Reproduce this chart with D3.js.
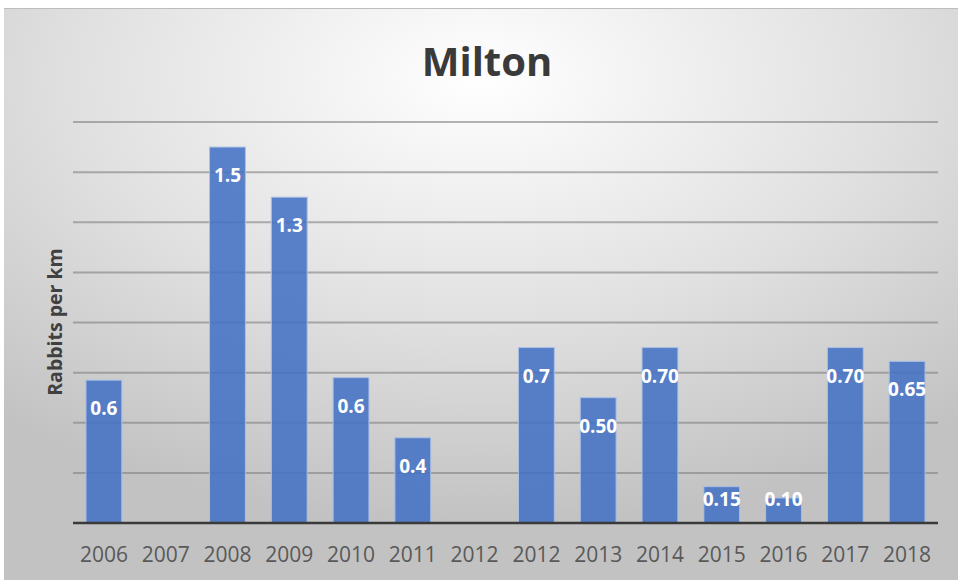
<!DOCTYPE html>
<html>
<head>
<meta charset="utf-8">
<script src="https://cdn.jsdelivr.net/npm/d3@7"></script>
<style>
  body { margin: 0; background: #fff; }
  svg { display: block; }
</style>
</head>
<body>
<div id="chart"></div>
<script>
// data
var years = ["2006", "2007", "2008", "2009", "2010", "2011", "2012", "2012", "2013", "2014", "2015", "2016", "2017", "2018"];
var rabbits = [0.57, null, 1.5, 1.3, 0.58, 0.34, null, 0.7, 0.5, 0.7, 0.145, 0.1, 0.7, 0.645];
var labels = ["0.6", "", "1.5", "1.3", "0.6", "0.4", "", "0.7", "0.50", "0.70", "0.15", "0.10", "0.70", "0.65"];
var gridTicks = [0.2, 0.4, 0.6, 0.8, 1.0, 1.2, 1.4, 1.6];

var svgWidth = 958;
var svgHeight = 582;

var margin = { top: 122, right: 20, bottom: 59, left: 73 };
var width = 938 - margin.left;
var height = 523 - margin.top;

var svg = d3.select("#chart")
    .append("svg")
    .attr("width", svgWidth)
    .attr("height", svgHeight);

// background panel
var defs = svg.append("defs");
var grad = defs.append("radialGradient")
    .attr("id", "bg")
    .attr("cx", "50%").attr("cy", "12%")
    .attr("r", "78%")
    .attr("gradientUnits", "objectBoundingBox");
grad.append("stop").attr("offset", "0%").attr("stop-color", "#ffffff");
grad.append("stop").attr("offset", "55%").attr("stop-color", "#e0e0e0");
grad.append("stop").attr("offset", "100%").attr("stop-color", "#c2c2c2");

svg.append("rect")
    .attr("x", 4).attr("y", 8)
    .attr("width", 954).attr("height", 2)
    .attr("fill", "#bdbdbd");
svg.append("rect")
    .attr("x", 4).attr("y", 9)
    .attr("width", 954).attr("height", 571)
    .attr("fill", "url(#bg)");

var chartGroup = svg.append("g")
    .attr("transform", `translate(${margin.left}, ${margin.top})`);

var xScale = d3.scaleBand()
    .domain(d3.range(years.length))
    .range([0, width])
    .paddingInner(0.42)
    .paddingOuter(0.21);

var yScale = d3.scaleLinear()
    .domain([0, 1.6])
    .range([height, 0]);

// gridlines
chartGroup.selectAll(".grid")
    .data(gridTicks)
    .enter()
    .append("line")
    .attr("x1", 0)
    .attr("x2", width)
    .attr("y1", d => yScale(d))
    .attr("y2", d => yScale(d))
    .attr("stroke", "#808080")
    .attr("stroke-opacity", 0.6)
    .attr("stroke-width", 2);

var barData = rabbits.map((v, i) => ({ i: i, v: v, label: labels[i] }))
    .filter(d => d.v !== null);

chartGroup.selectAll("rect.bar")
    .data(barData)
    .enter()
    .append("rect")
    .attr("class", "bar")
    .attr("x", d => xScale(d.i))
    .attr("y", d => yScale(d.v))
    .attr("width", xScale.bandwidth())
    .attr("height", d => height - yScale(d.v))
    .attr("fill", "#4472c4")
    .attr("fill-opacity", 0.88)
    .attr("stroke", "#a9bfe6")
    .attr("stroke-width", 1);

// x axis
var bottomAxis = d3.axisBottom(xScale)
    .tickFormat(i => years[i])
    .tickSize(0)
    .tickPadding(24);

var xAxis = chartGroup.append("g")
    .attr("transform", `translate(0, ${height})`)
    .call(bottomAxis);
xAxis.select(".domain").remove();
xAxis.selectAll("text")
    .attr("font-family", "Open Sans, sans-serif")
    .attr("font-size", 21)
    .attr("fill", "#595959");

chartGroup.append("line")
    .attr("x1", 0).attr("x2", width)
    .attr("y1", height).attr("y2", height)
    .attr("stroke", "#3a3a3a")
    .attr("stroke-width", 2.5);

// data labels
chartGroup.selectAll(".lbl")
    .data(barData)
    .enter()
    .append("text")
    .attr("x", d => xScale(d.i) + xScale.bandwidth() / 2)
    .attr("y", d => Math.min(yScale(d.v) + 35, height - 17))
    .attr("text-anchor", "middle")
    .attr("font-family", "Open Sans, sans-serif")
    .attr("font-weight", "bold")
    .attr("font-size", 19)
    .attr("fill", "#ffffff")
    .text(d => d.label);

// title
svg.append("text")
    .attr("x", 487)
    .attr("y", 76)
    .attr("text-anchor", "middle")
    .attr("font-family", "Open Sans, sans-serif")
    .attr("font-weight", "bold")
    .attr("font-size", 40)
    .attr("fill", "#3a3a3a")
    .text("Milton");

// y axis title
svg.append("text")
    .attr("transform", "translate(62, 322) rotate(-90)")
    .attr("text-anchor", "middle")
    .attr("font-family", "Open Sans, sans-serif")
    .attr("font-weight", "bold")
    .attr("font-size", 19.5)
    .attr("fill", "#404040")
    .text("Rabbits per km");
</script>
</body>
</html>
